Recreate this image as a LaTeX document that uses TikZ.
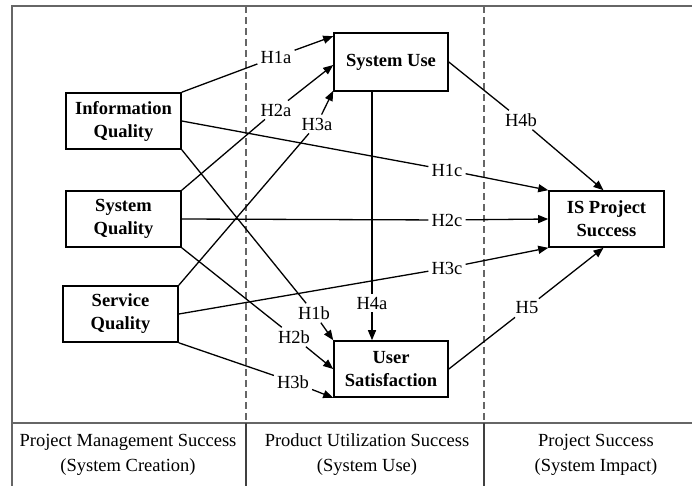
\documentclass[tikz,border=0pt]{standalone}
\usepackage{fontspec}
\setmainfont{Liberation Serif}
\usetikzlibrary{arrows.meta}
\begin{document}
\begin{tikzpicture}[x=1pt,y=-1pt,
  box/.style={draw=black,line width=1.6pt,minimum width=115pt,minimum height=56pt,inner sep=0pt,align=center,font=\fontsize{18.5}{23}\selectfont\bfseries},
  lbl/.style={inner sep=3pt,font=\fontsize{18.5}{22}\selectfont},
  conn/.style={line width=1.3pt,black},
  arr/.style={conn,-{Triangle[length=10pt,width=8pt]}},
  frame/.style={line width=1.6pt,draw=black!60},
  sep/.style={line width=1.2pt,draw=black!60,dash pattern=on 7pt off 4pt},
  foot/.style={align=center,font=\fontsize{18.5}{25}\selectfont}]
\useasboundingbox (0,0) rectangle (692,485);
% frame
\coordinate (ftl) at (12,6);
\coordinate (ftr) at (693,6);
\coordinate (fbl) at (12,486);
\coordinate (fml) at (12,423);
\coordinate (fmr) at (693,423);
\draw[frame] (ftr) -- (ftl) -- (fbl);
\draw[frame] (fml) -- (fmr);
\coordinate (d1t) at (246,6); \coordinate (d1b) at (246,423); \coordinate (d1e) at (246,486);
\coordinate (d2t) at (484,6); \coordinate (d2b) at (484,423); \coordinate (d2e) at (484,486);
\draw[sep] (d1t) -- (d1b);
\draw[sep] (d2t) -- (d2b);
\draw[frame,draw=black!75,line width=1.3pt] (d1b) -- (d1e);
\draw[frame,draw=black!75,line width=1.3pt] (d2b) -- (d2e);
% boxes
\node[box] (iq) at (123.5,121) {Information\\Quality};
\node[box] (sq) at (123.5,219) {System\\Quality};
\node[box] (svq) at (120.5,314) {Service\\Quality};
\node[box,minimum width=114pt,minimum height=58pt] (su) at (391,62) {System Use};
\node[box,minimum width=114pt] (us) at (391,369) {User\\Satisfaction};
\node[box] (isp) at (606.5,219) {IS Project\\Success};
% labels
\node[lbl] (h1a) at (276,57) {H1a};
\node[lbl] (h2a) at (276,110) {H2a};
\node[lbl] (h3a) at (317,124) {H3a};
\node[lbl] (h1c) at (447,170) {H1c};
\node[lbl] (h2c) at (447,220) {H2c};
\node[lbl] (h3c) at (447,268) {H3c};
\node[lbl] (h4b) at (521,120) {H4b};
\node[lbl] (h4a) at (372,303) {H4a};
\node[lbl] (h5) at (527,308) {H5};
\node[lbl] (h1b) at (314,313) {H1b};
\node[lbl] (h2b) at (294,337) {H2b};
\node[lbl] (h3b) at (293,382) {H3b};
% connectors
\draw[conn] (iq.north east) -- (h1a);
\draw[arr] (h1a) -- ([yshift=-4pt]su.north west);
\draw[conn] (sq.north east) -- (h2a);
\draw[arr] (h2a) -- ([yshift=-3pt]su.west);
\draw[conn] (svq.north east) -- (h3a);
\draw[arr] (h3a) -- ([yshift=1pt]su.south west);
\draw[conn] (iq.east) -- (h1c);
\draw[arr] (h1c) -- (isp.north west);
\draw[conn] (sq.east) -- (h2c);
\draw[arr] (h2c) -- (isp.west);
\draw[conn] (svq.east) -- (h3c);
\draw[arr] (h3c) -- (isp.south west);
\draw[conn] (su.east) -- (h4b);
\draw[arr] (h4b) -- ([xshift=-3pt]isp.north);
\draw[conn] (us.east) -- (h5);
\draw[arr] (h5) -- ([xshift=-3pt]isp.south);
\draw[conn] ([xshift=-19pt]su.south) -- (h4a);
\draw[arr] (h4a) -- ([xshift=-19pt]us.north);
\draw[conn] (iq.south east) -- (h1b);
\draw[arr] (h1b) -- (us.north west);
\draw[conn] (sq.south east) -- (h2b);
\draw[arr] (h2b) -- (us.west);
\draw[conn] (svq.south east) -- (h3b);
\draw[arr] (h3b) -- (us.south west);
% footer
\node[foot] (f1) at (128,455) {Project Management Success\\(System Creation)};
\node[foot] (f2) at (367,455) {Product Utilization Success\\(System Use)};
\node[foot] (f3) at (596,455) {Project Success\\(System Impact)};
\end{tikzpicture}
\end{document}
